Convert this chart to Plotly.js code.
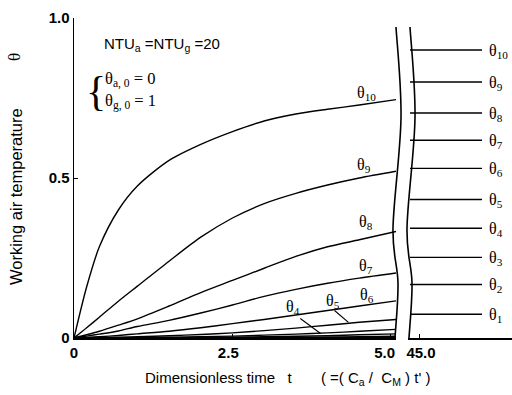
<!DOCTYPE html>
<html>
<head>
<meta charset="utf-8">
<script src="https://cdn.plot.ly/plotly-3.0.1.min.js"></script>
<style>html,body{margin:0;padding:0;background:#fff;}#chart{width:512px;height:395px;}</style>
</head>
<body>
<div id="chart"></div>
<script>
// ---- data ----
const tLeft = [0, 0.2, 0.4, 0.7, 1.0, 1.5, 2.0, 2.5, 3.0, 3.5, 4.0, 4.5, 5.08];
const theta1  = [0, 0, 0, 0.00005, 0.0001, 0.0002, 0.0003, 0.0005, 0.0007, 0.001, 0.0013, 0.0017, 0.0022];
const theta2  = [0, 0, 0, 0.0001, 0.0002, 0.0004, 0.0007, 0.0011, 0.0016, 0.0022, 0.003, 0.004, 0.0055];
const theta3  = [0, 0, 0.0001, 0.0003, 0.0005, 0.001, 0.0017, 0.0027, 0.004, 0.0055, 0.0075, 0.01, 0.013];
const theta4  = [0, 0.0002, 0.0004, 0.0008, 0.0013, 0.0025, 0.004, 0.006, 0.009, 0.012, 0.016, 0.021, 0.027];
const theta5  = [0, 0.0006, 0.0013, 0.0025, 0.004, 0.007, 0.011, 0.016, 0.023, 0.031, 0.040, 0.049, 0.058];
const theta6  = [0, 0.002, 0.004, 0.008, 0.013, 0.021, 0.032, 0.045, 0.058, 0.072, 0.086, 0.100, 0.116];
const theta7  = [0, 0.006, 0.012, 0.022, 0.036, 0.055, 0.078, 0.103, 0.130, 0.152, 0.171, 0.187, 0.203];
const theta8  = [0, 0.010, 0.021, 0.040, 0.060, 0.100, 0.142, 0.180, 0.218, 0.255, 0.285, 0.307, 0.333];
const theta9  = [0, 0.032, 0.065, 0.115, 0.162, 0.240, 0.315, 0.375, 0.420, 0.452, 0.478, 0.500, 0.521];
const theta10 = [0, 0.160, 0.285, 0.400, 0.475, 0.555, 0.605, 0.645, 0.678, 0.700, 0.715, 0.728, 0.745];
const thetaSteady = [0.074, 0.167, 0.252, 0.343, 0.433, 0.530, 0.618, 0.703, 0.800, 0.900];
const tRight = [44.82, 46.26];
const seriesLabels = ['1','2','3','4','5','6','7','8','9','10'];
const xTickVals = [0, 2.5, 5];
const xTickText = ['0', '2.5', '5.0'];
const x2TickVals = [45];
const x2TickText = ['45.0'];
const yTickVals = [0, 0.5, 1];
const yTickText = ['0', '0.5', '1.0'];

const series = [theta1, theta2, theta3, theta4, theta5, theta6, theta7, theta8, theta9, theta10];

// ---- geometry helpers (layout only) ----
const L = 74, T = 18, W = 438, H = 320;
const px = x => (x - L) / W;
const py = y => (T + H - y) / H;
const NB = '\u00a0';
// small horizontal nudges of tick labels (in no-break spaces), as in the reference
const padLabel = (txt, before, after) => NB.repeat(before) + txt + NB.repeat(after);
const xTickShown = [xTickText[0], padLabel(xTickText[1], 0, 2), padLabel(xTickText[2], 0, 3)];

// smooth wavy break line through a few pixel anchor points (Catmull-Rom -> cubic)
function wavyPath(pts, dx) {
  const P = pts.map(p => [p[0] + dx, p[1]]);
  const f = p => px(p[0]) + ',' + py(p[1]);
  let d = 'M ' + f(P[0]);
  for (let i = 0; i < P.length - 1; i++) {
    const p0 = P[Math.max(i - 1, 0)], p1 = P[i], p2 = P[i + 1], p3 = P[Math.min(i + 2, P.length - 1)];
    const c1 = [p1[0] + (p2[0] - p0[0]) / 6, p1[1] + (p2[1] - p0[1]) / 6];
    const c2 = [p2[0] - (p3[0] - p1[0]) / 6, p2[1] - (p3[1] - p1[1]) / 6];
    d += ' C ' + f(c1) + ' ' + f(c2) + ' ' + f(p2);
  }
  return d;
}
const breakAnchors = [[396, 27], [401, 118], [393, 228], [398, 283], [395, 338]];

const traces = [];
series.forEach((s, i) => {
  traces.push({x: tLeft, y: s, xaxis: 'x', yaxis: 'y', mode: 'lines',
    line: {color: '#000', width: 1.4, shape: 'spline', smoothing: 0.8}, hoverinfo: 'skip'});
  traces.push({x: tRight, y: [thetaSteady[i], thetaSteady[i]], xaxis: 'x2', yaxis: 'y', mode: 'lines',
    line: {color: '#000', width: 1.4}, hoverinfo: 'skip'});
});

const serif = 'Liberation Serif';
const sans = 'Liberation Sans';
const annotations = [];
// right-panel labels
thetaSteady.forEach((v, i) => {
  annotations.push({xref: 'x2', yref: 'y', x: tRight[1], y: v, xanchor: 'left', yanchor: 'middle',
    xshift: 5, yshift: -1, showarrow: false, text: 'θ<sub>' + seriesLabels[i] + '</sub>',
    font: {family: serif, size: 16, color: '#000'}});
});
// left-panel curve labels (positions)
const leftLabels = [
  {n: '10', t: 4.61, v: 0.765},
  {n: '9', t: 4.58, v: 0.54},
  {n: '8', t: 4.6, v: 0.362},
  {n: '7', t: 4.6, v: 0.224},
  {n: '6', t: 4.63, v: 0.133},
  {n: '5', t: 4.08, v: 0.114},
  {n: '4', t: 3.45, v: 0.095}
];
leftLabels.forEach(o => {
  annotations.push({xref: 'x', yref: 'y', x: o.t, y: o.v, xanchor: 'center', yanchor: 'middle',
    showarrow: false, text: 'θ<sub>' + o.n + '</sub>', font: {family: serif, size: 16, color: '#000'}});
});
// text block
annotations.push({xref: 'paper', yref: 'paper', x: px(102), y: py(45), xanchor: 'left', yanchor: 'middle',
  showarrow: false, text: 'NTU<sub>a</sub> =NTU<sub>g</sub> =20', font: {family: sans, size: 15, color: '#000'}});
annotations.push({xref: 'paper', yref: 'paper', x: px(96), y: py(91), xanchor: 'center', yanchor: 'middle',
  showarrow: false, text: '{', font: {family: serif, size: 42, color: '#000'}});
annotations.push({xref: 'paper', yref: 'paper', x: px(103), y: py(79), xanchor: 'left', yanchor: 'middle',
  showarrow: false, text: 'θ<sub>a, 0</sub> = 0', font: {family: serif, size: 16.5, color: '#000'}});
annotations.push({xref: 'paper', yref: 'paper', x: px(103), y: py(102), xanchor: 'left', yanchor: 'middle',
  showarrow: false, text: 'θ<sub>g, 0</sub> = 1', font: {family: serif, size: 16.5, color: '#000'}});
// axis titles
annotations.push({xref: 'paper', yref: 'paper', x: px(143), y: py(378), xanchor: 'left', yanchor: 'middle',
  showarrow: false,
  text: 'Dimensionless time' + NB.repeat(3) + 't' + NB.repeat(7) + '(' + NB + '=(' + NB + 'C<sub>a</sub>' + NB + '/' + NB + NB + 'C<sub>M</sub>' + NB + ')' + NB + 't\'' + NB + ')',
  font: {family: sans, size: 15, color: '#000'}});
annotations.push({xref: 'paper', yref: 'paper', x: px(16), y: py(197), xanchor: 'center', yanchor: 'middle',
  textangle: -90, showarrow: false, text: 'Working air temperature', font: {family: sans, size: 16.5, color: '#000'}});
annotations.push({xref: 'paper', yref: 'paper', x: px(15), y: py(57), xanchor: 'center', yanchor: 'middle',
  textangle: -90, showarrow: false, text: 'θ', font: {family: serif, size: 17, color: '#000'}});

const shapes = [
  {type: 'path', xref: 'paper', yref: 'paper', path: wavyPath(breakAnchors, 0), line: {color: '#000', width: 1.6}},
  {type: 'path', xref: 'paper', yref: 'paper', path: wavyPath(breakAnchors, 14), line: {color: '#000', width: 1.6}},
  // leader lines for θ4 and θ5
  {type: 'line', xref: 'x', yref: 'y', x0: 3.57, y0: 0.061, x1: 3.89, y1: 0.014, line: {color: '#000', width: 1.1}},
  {type: 'line', xref: 'x', yref: 'y', x0: 4.11, y0: 0.086, x1: 4.33, y1: 0.049, line: {color: '#000', width: 1.1}}
];

const axisCommon = {showgrid: false, zeroline: false, showline: true, linecolor: '#000', linewidth: 1.5,
  ticks: 'inside', ticklen: 4, tickcolor: '#000', tickfont: {family: sans, size: 15, color: '#000', weight: 'bold'}};

const layout = {
  width: 512, height: 395, autosize: false,
  margin: {l: L, r: 0, t: T, b: 395 - T - H, pad: 0},
  paper_bgcolor: '#fff', plot_bgcolor: '#fff', showlegend: false,
  xaxis: Object.assign({}, axisCommon, {domain: [0, px(396)], range: [0, 5.08], tickmode: 'array',
    tickvals: xTickVals, ticktext: xTickShown, anchor: 'y'}),
  xaxis2: Object.assign({}, axisCommon, {domain: [px(408), 1], range: [44.78, 46.86], tickmode: 'array',
    tickvals: x2TickVals, ticktext: x2TickText, ticklabelshift: 2, anchor: 'y'}),
  yaxis: Object.assign({}, axisCommon, {domain: [0, 1], range: [0, 1], tickmode: 'array',
    tickvals: yTickVals, ticktext: yTickText, anchor: 'x'}),
  annotations: annotations,
  shapes: shapes
};

Plotly.newPlot('chart', traces, layout, {displayModeBar: false, staticPlot: true});
</script>
</body>
</html>
